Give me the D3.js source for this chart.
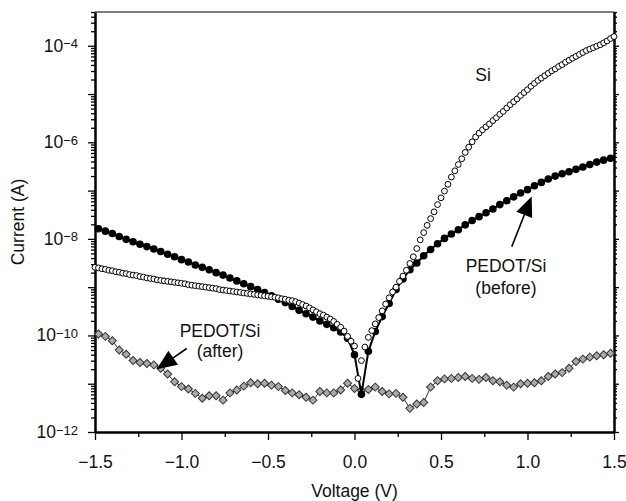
<!DOCTYPE html>
<html>
<head>
<meta charset="utf-8">
<script src="https://cdn.jsdelivr.net/npm/d3@7"></script>
<style>
body{margin:0;background:#fff;}
text{font-family:"Liberation Sans",Arial,Helvetica,sans-serif;fill:#111;}
</style>
</head>
<body>
<svg width="626" height="501"></svg>
<script>
// sweep voltages (V) for the PEDOT/Si curves, 0.04 V steps
var sweepV = [
  -1.48,-1.44,-1.40,-1.36,-1.32,-1.28,-1.24,-1.20,-1.16,-1.12,
  -1.08,-1.04,-1.00,-0.96,-0.92,-0.88,-0.84,-0.80,-0.76,-0.72,
  -0.68,-0.64,-0.60,-0.56,-0.52,-0.48,-0.44,-0.40,-0.36,-0.32,
  -0.28,-0.24,-0.20,-0.16,-0.12,-0.08,-0.04,0.00,0.04,0.08,
  0.12,0.16,0.20,0.24,0.28,0.32,0.36,0.40,0.44,0.48,
  0.52,0.56,0.60,0.64,0.68,0.72,0.76,0.80,0.84,0.88,
  0.92,0.96,1.00,1.04,1.08,1.12,1.16,1.20,1.24,1.28,
  1.32,1.36,1.40,1.44,1.48
];
// log10 of current (A), PEDOT/Si before
var beforeLog = [
  -7.79,-7.84,-7.89,-7.95,-8.01,-8.06,-8.11,-8.16,-8.21,-8.26,
  -8.32,-8.37,-8.43,-8.48,-8.54,-8.59,-8.64,-8.70,-8.75,-8.81,
  -8.87,-8.93,-8.99,-9.05,-9.11,-9.18,-9.25,-9.32,-9.40,-9.48,
  -9.55,-9.62,-9.70,-9.77,-9.84,-9.93,-10.06,-10.40,-11.22,-10.33,
  -9.92,-9.61,-9.34,-9.05,-8.83,-8.64,-8.50,-8.35,-8.22,-8.10,
  -7.99,-7.90,-7.81,-7.71,-7.62,-7.54,-7.46,-7.38,-7.29,-7.21,
  -7.13,-7.05,-6.98,-6.90,-6.83,-6.76,-6.70,-6.65,-6.61,-6.56,
  -6.51,-6.46,-6.41,-6.37,-6.33
];
// log10 of current (A), PEDOT/Si after
var afterLog = [
  -9.97,-10.02,-10.11,-10.30,-10.39,-10.52,-10.56,-10.58,-10.61,-10.68,
  -10.80,-10.96,-11.06,-11.11,-11.20,-11.30,-11.25,-11.25,-11.34,-11.19,
  -11.13,-11.05,-10.98,-11.00,-10.99,-11.03,-11.06,-11.14,-11.19,-11.23,
  -11.28,-11.34,-11.16,-11.19,-11.19,-11.13,-10.99,-11.10,-11.14,-11.12,
  -11.07,-11.16,-11.21,-11.20,-11.28,-11.51,-11.42,-11.39,-11.07,-10.94,
  -10.90,-10.89,-10.87,-10.85,-10.89,-10.91,-10.87,-10.94,-10.96,-11.03,
  -11.07,-11.00,-10.99,-10.98,-10.94,-10.85,-10.80,-10.77,-10.68,-10.54,
  -10.49,-10.45,-10.42,-10.40,-10.37
];
// bare Si, 0.02 V steps
var siV = [
  -1.50,-1.48,-1.46,-1.44,-1.42,-1.40,-1.38,-1.36,-1.34,-1.32,
  -1.30,-1.28,-1.26,-1.24,-1.22,-1.20,-1.18,-1.16,-1.14,-1.12,
  -1.10,-1.08,-1.06,-1.04,-1.02,-1.00,-0.98,-0.96,-0.94,-0.92,
  -0.90,-0.88,-0.86,-0.84,-0.82,-0.80,-0.78,-0.76,-0.74,-0.72,
  -0.70,-0.68,-0.66,-0.64,-0.62,-0.60,-0.58,-0.56,-0.54,-0.52,
  -0.50,-0.48,-0.46,-0.44,-0.42,-0.40,-0.38,-0.36,-0.34,-0.32,
  -0.30,-0.28,-0.26,-0.24,-0.22,-0.20,-0.18,-0.16,-0.14,-0.12,
  -0.10,-0.08,-0.06,-0.04,-0.02,0.00,0.02,0.04,0.06,0.08,
  0.10,0.12,0.14,0.16,0.18,0.20,0.22,0.24,0.26,0.28,
  0.30,0.32,0.34,0.36,0.38,0.40,0.42,0.44,0.46,0.48,
  0.50,0.52,0.54,0.56,0.58,0.60,0.62,0.64,0.66,0.68,
  0.70,0.72,0.74,0.76,0.78,0.80,0.82,0.84,0.86,0.88,
  0.90,0.92,0.94,0.96,0.98,1.00,1.02,1.04,1.06,1.08,
  1.10,1.12,1.14,1.16,1.18,1.20,1.22,1.24,1.26,1.28,
  1.30,1.32,1.34,1.36,1.38,1.40,1.42,1.44,1.46,1.48,
  1.50
];
var siLog = [
  -8.59,-8.60,-8.62,-8.63,-8.65,-8.66,-8.68,-8.69,-8.71,-8.72,
  -8.74,-8.75,-8.76,-8.78,-8.79,-8.81,-8.82,-8.83,-8.85,-8.86,
  -8.87,-8.88,-8.89,-8.90,-8.91,-8.92,-8.93,-8.95,-8.96,-8.97,
  -8.98,-8.99,-9.00,-9.01,-9.02,-9.03,-9.05,-9.06,-9.07,-9.08,
  -9.09,-9.10,-9.11,-9.12,-9.13,-9.14,-9.15,-9.16,-9.17,-9.18,
  -9.19,-9.20,-9.21,-9.22,-9.24,-9.25,-9.27,-9.28,-9.30,-9.33,
  -9.36,-9.39,-9.43,-9.47,-9.51,-9.55,-9.58,-9.62,-9.66,-9.71,
  -9.77,-9.83,-9.91,-10.02,-10.12,-10.22,-10.89,-10.52,-10.24,-10.04,
  -9.90,-9.76,-9.63,-9.49,-9.35,-9.22,-9.10,-9.00,-8.88,-8.77,
  -8.65,-8.51,-8.37,-8.20,-8.02,-7.87,-7.72,-7.58,-7.44,-7.29,
  -7.15,-7.01,-6.87,-6.72,-6.59,-6.46,-6.34,-6.21,-6.10,-5.99,
  -5.89,-5.81,-5.74,-5.68,-5.62,-5.55,-5.49,-5.42,-5.36,-5.29,
  -5.22,-5.16,-5.10,-5.03,-4.97,-4.91,-4.84,-4.78,-4.72,-4.67,
  -4.62,-4.57,-4.52,-4.48,-4.43,-4.39,-4.34,-4.30,-4.26,-4.22,
  -4.18,-4.14,-4.10,-4.07,-4.04,-4.01,-3.98,-3.94,-3.90,-3.85,
  -3.81
];
var xMajor = [-1.5,-1.0,-0.5,0.0,0.5,1.0,1.5];
var xMinor = [-1.25,-0.75,-0.25,0.25,0.75,1.25];
var yLabelExp = [-4,-6,-8,-10,-12];
// arrows: tail and tip in (V, log10 A)
var arrows = [
  {v0:-0.97, l0:-10.27, v1:-1.143, l1:-10.70},
  {v0:0.909, l0:-8.16, v1:1.024, l1:-7.12}
];

var svg = d3.select("svg");
var plotL = 95, plotR = 614, plotT = 12, plotB = 432;
var fs = 17.5;

var x = d3.scaleLinear().domain([-1.5,1.5]).range([plotL,plotR]);
var y = d3.scaleLog().domain([1e-12,5e-4]).range([plotB,plotT]);

var isDecade = d => Math.abs(Math.log10(d) - Math.round(Math.log10(d))) < 1e-6;
var decades = y.ticks().filter(isDecade);
var minors = y.ticks().filter(d => !isDecade(d));

function styleAxis(g){
  g.selectAll("path.domain").attr("stroke","#000").attr("stroke-width",2);
  g.selectAll(".tick line").attr("stroke","#000").attr("stroke-width",1.3);
}

//坐标轴 bottom
svg.append("g").attr("transform",`translate(0,${plotB})`)
  .call(d3.axisBottom(x).tickValues(xMinor).tickSize(5).tickSizeOuter(0).tickFormat(""))
  .call(styleAxis);
var gx = svg.append("g").attr("transform",`translate(0,${plotB})`)
  .call(d3.axisBottom(x).tickValues(xMajor).tickSize(8).tickSizeOuter(0).tickFormat(d3.format(".1f")))
  .call(styleAxis);
gx.attr("font-size",null).attr("font-family",null);
gx.selectAll("text").attr("font-size",fs).attr("y",23.5).attr("dy","0.71em")
  .attr("fill","#111");

// left
svg.append("g").attr("transform",`translate(${plotL},0)`)
  .call(d3.axisLeft(y).tickValues(minors).tickSize(4).tickSizeOuter(0).tickFormat(""))
  .call(styleAxis);
svg.append("g").attr("transform",`translate(${plotL},0)`)
  .call(d3.axisLeft(y).tickValues(decades).tickSize(7).tickSizeOuter(0).tickFormat(""))
  .call(styleAxis);
// right
svg.append("g").attr("transform",`translate(${plotR},0)`)
  .call(d3.axisRight(y).tickValues(minors).tickSize(3).tickSizeOuter(0).tickFormat(""))
  .call(styleAxis);
svg.append("g").attr("transform",`translate(${plotR},0)`)
  .call(d3.axisRight(y).tickValues(decades).tickSize(5).tickSizeOuter(0).tickFormat(""))
  .call(styleAxis);
// top line
svg.append("line").attr("x1",plotL).attr("x2",plotR).attr("y1",plotT).attr("y2",plotT)
  .attr("stroke","#000").attr("stroke-width",1.2);

// y labels 10^n
svg.append("g").selectAll("text").data(yLabelExp).enter().append("text")
  .attr("x",78).attr("y",d => y(Math.pow(10,d)) + 6)
  .attr("text-anchor","end").attr("font-size",fs)
  .each(function(d){
    var t = d3.select(this);
    t.append("tspan").text("10");
    t.append("tspan").attr("dy",-3.5).attr("font-size",13).text("\u2212" + Math.abs(d));
  });

// axis titles
svg.append("text").attr("x",x(0)).attr("y",497).attr("text-anchor","middle")
  .attr("font-size",fs).text("Voltage (V)");
svg.append("text").attr("transform","translate(24,222) rotate(-90)")
  .attr("text-anchor","middle").attr("font-size",fs).text("Current (A)");

var line = d3.line().x(d => x(d.v)).y(d => y(d.i));
var afterPts = sweepV.map((v,k) => ({v:v, i:Math.pow(10,afterLog[k])}));
var beforePts = sweepV.map((v,k) => ({v:v, i:Math.pow(10,beforeLog[k])}));
var siPts = siV.map((v,k) => ({v:v, i:Math.pow(10,siLog[k])}));

// after: grey diamonds
svg.append("path").datum(afterPts).attr("d",line)
  .attr("fill","none").attr("stroke","#333").attr("stroke-width",1);
svg.append("g").selectAll("path").data(afterPts).enter().append("path")
  .attr("d",d3.symbol(d3.symbolSquare,32))
  .attr("transform",d => `translate(${x(d.v)},${y(d.i)}) rotate(45)`)
  .attr("fill","#aaa").attr("stroke","#333").attr("stroke-width",1);

// before: filled circles
svg.append("path").datum(beforePts).attr("d",line)
  .attr("fill","none").attr("stroke","#000").attr("stroke-width",2);
svg.append("g").selectAll("circle").data(beforePts).enter().append("circle")
  .attr("cx",d => x(d.v)).attr("cy",d => y(d.i)).attr("r",3.8)
  .attr("fill","#000");

// Si: open circles
svg.append("g").selectAll("circle").data(siPts).enter().append("circle")
  .attr("cx",d => x(d.v)).attr("cy",d => y(d.i)).attr("r",2.9)
  .attr("fill","#fff").attr("stroke","#000").attr("stroke-width",1);

// arrows
arrows.forEach(a => {
  var x0 = x(a.v0), y0 = y(Math.pow(10,a.l0)), x1 = x(a.v1), y1 = y(Math.pow(10,a.l1));
  var dx = x1 - x0, dy = y1 - y0, len = Math.sqrt(dx*dx + dy*dy);
  var ux = dx/len, uy = dy/len, hl = 20, hw = 8.5;
  var bx = x1 - ux*hl, by = y1 - uy*hl;
  svg.append("line").attr("x1",x0).attr("y1",y0).attr("x2",bx).attr("y2",by)
    .attr("stroke","#000").attr("stroke-width",1.6);
  svg.append("path")
    .attr("d",`M${x1},${y1}L${bx - uy*hw},${by + ux*hw}L${bx + uy*hw},${by - ux*hw}Z`)
    .attr("fill","#000");
});

// labels
var notes = [
  {t:"Si", x:483, y:81},
  {t:"PEDOT/Si", x:506, y:272},
  {t:"(before)", x:506, y:294},
  {t:"PEDOT/Si", x:220, y:337},
  {t:"(after)", x:220, y:357}
];
svg.append("g").selectAll("text").data(notes).enter().append("text")
  .attr("x",d => d.x).attr("y",d => d.y).attr("text-anchor","middle")
  .attr("font-size",fs).text(d => d.t);
</script>
</body>
</html>
